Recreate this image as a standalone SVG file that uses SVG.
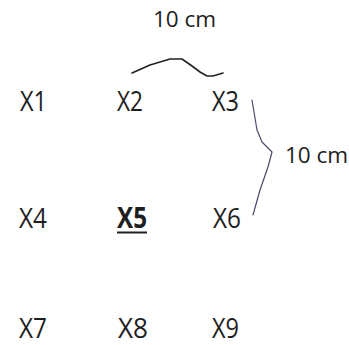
<svg xmlns="http://www.w3.org/2000/svg" width="349" height="345" viewBox="0 0 349 345">
<style>
.lbl{font-family:"Open Sans","Liberation Sans",sans-serif;font-size:28px;fill:#1e1e1e;}
.dim{font-family:"Open Sans","Liberation Sans",sans-serif;font-size:22.5px;fill:#1e1e1e;}
.b{font-weight:bold;}
.con{fill:none;stroke-linecap:round;stroke-linejoin:round;}
</style>
<rect width="349" height="345" fill="#fff"/>
<g id="connectors">
<path class="con" d="M132,73 L150,65 L170,59 L182,59 L192,66 L200,72 L207,76 L213,76 L223,73" stroke="#222" stroke-width="1.6"/>
<path class="con" d="M252,100 L255,118 L257,130 L262,142 L272,152 L268,167 L260,190 L253,215" stroke="#4a4a6a" stroke-width="1.2"/>
</g>
<g id="dim-top"><text class="dim" x="153" y="27">10 cm</text></g>
<g id="dim-right"><text class="dim" x="285" y="163">10 cm</text></g>
<g id="X1"><text class="lbl" x="20" y="111" textLength="27" lengthAdjust="spacingAndGlyphs">X1</text></g>
<g id="X2"><text class="lbl" x="117" y="111" textLength="26" lengthAdjust="spacingAndGlyphs">X2</text></g>
<g id="X3"><text class="lbl" x="212" y="111" textLength="27" lengthAdjust="spacingAndGlyphs">X3</text></g>
<g id="X4"><text class="lbl" x="19" y="228" textLength="28" lengthAdjust="spacingAndGlyphs">X4</text></g>
<g id="X5"><text class="lbl b" x="117" y="228" textLength="30" lengthAdjust="spacingAndGlyphs">X5</text><line x1="117" y1="232.5" x2="147" y2="232.5" stroke="#1e1e1e" stroke-width="2"/></g>
<g id="X6"><text class="lbl" x="213" y="228" textLength="28" lengthAdjust="spacingAndGlyphs">X6</text></g>
<g id="X7"><text class="lbl" x="19" y="338" textLength="28" lengthAdjust="spacingAndGlyphs">X7</text></g>
<g id="X8"><text class="lbl" x="118" y="338" textLength="30" lengthAdjust="spacingAndGlyphs">X8</text></g>
<g id="X9"><text class="lbl" x="212" y="338" textLength="27" lengthAdjust="spacingAndGlyphs">X9</text></g>
</svg>
